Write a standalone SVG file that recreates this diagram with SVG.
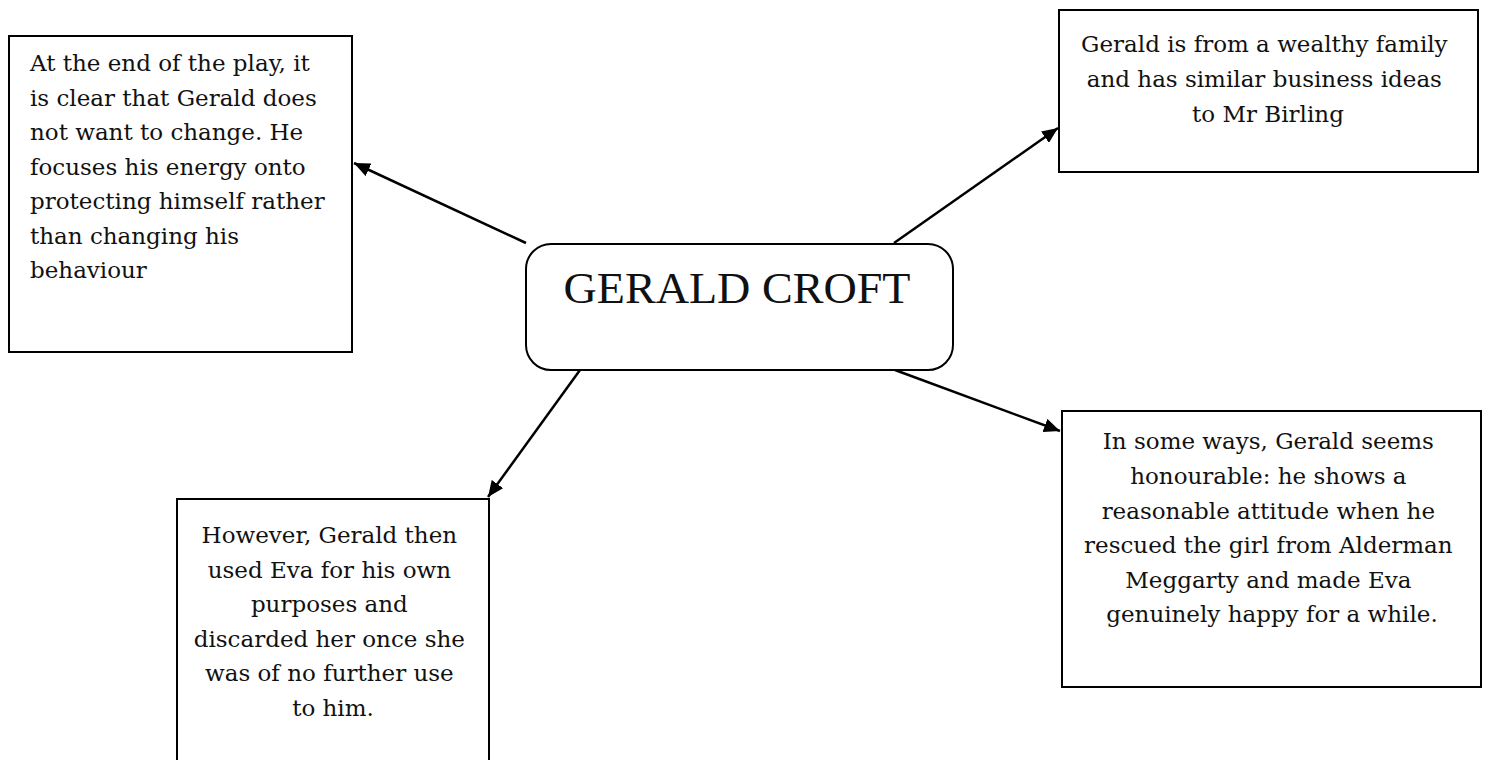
<svg xmlns="http://www.w3.org/2000/svg" width="1488" height="760" viewBox="0 0 1488 760">
<style>
.box{fill:#fff;stroke:#000;stroke-width:2}
.t{font-family:"DejaVu Serif","Liberation Serif",serif;font-size:23px;fill:#111}
.c{text-anchor:middle}
.title{font-family:"Liberation Serif","Times New Roman",serif;font-size:45px;fill:#111;text-anchor:middle}
.conn{stroke:#000;stroke-width:2.5;fill:none}
</style>
<defs>
<marker id="ah" markerUnits="userSpaceOnUse" markerWidth="18" markerHeight="14" refX="16" refY="7" orient="auto">
<path d="M0,0 L16,7 L0,14 Z" fill="#000"/>
</marker>
</defs>
<rect width="1488" height="760" fill="#fff"/>
<g id="connectors">
<line class="conn" x1="526" y1="243" x2="354" y2="163" marker-end="url(#ah)"/>
<line class="conn" x1="894" y1="243" x2="1058" y2="128" marker-end="url(#ah)"/>
<line class="conn" x1="580" y1="370" x2="488" y2="497" marker-end="url(#ah)"/>
<line class="conn" x1="895" y1="370" x2="1060" y2="431" marker-end="url(#ah)"/>
</g>
<g id="node-center">
<rect class="box" x="526" y="244" width="427" height="126" rx="25" ry="25"/>
<text class="title" x="737" y="303" textLength="347" lengthAdjust="spacingAndGlyphs">GERALD CROFT</text>
</g>
<g id="node-change">
<rect class="box" x="9" y="36" width="343" height="316"/>
<text class="t">
<tspan x="30" y="71">At the end of the play, it</tspan>
<tspan x="30" y="105.5">is clear that Gerald does</tspan>
<tspan x="30" y="140">not want to change. He</tspan>
<tspan x="30" y="174.5">focuses his energy onto</tspan>
<tspan x="30" y="209">protecting himself rather</tspan>
<tspan x="30" y="243.5">than changing his</tspan>
<tspan x="30" y="278">behaviour</tspan>
</text>
</g>
<g id="node-wealthy">
<rect class="box" x="1059" y="10" width="419" height="162"/>
<text class="t c">
<tspan x="1268" y="52">Gerald is from a wealthy family</tspan>
<tspan x="1268" y="87">and has similar business ideas</tspan>
<tspan x="1268" y="122">to Mr Birling</tspan>
</text>
</g>
<g id="node-used">
<rect class="box" x="177" y="499" width="312" height="270"/>
<text class="t c">
<tspan x="333" y="543">However, Gerald then</tspan>
<tspan x="333" y="577.5">used Eva for his own</tspan>
<tspan x="333" y="612">purposes and</tspan>
<tspan x="333" y="646.5">discarded her once she</tspan>
<tspan x="333" y="681">was of no further use</tspan>
<tspan x="333" y="715.5">to him.</tspan>
</text>
</g>
<g id="node-honourable">
<rect class="box" x="1062" y="411" width="419" height="276"/>
<text class="t c">
<tspan x="1272" y="449">In some ways, Gerald seems</tspan>
<tspan x="1272" y="484">honourable: he shows a</tspan>
<tspan x="1272" y="518.5">reasonable attitude when he</tspan>
<tspan x="1272" y="553">rescued the girl from Alderman</tspan>
<tspan x="1272" y="587.5">Meggarty and made Eva</tspan>
<tspan x="1272" y="622">genuinely happy for a while.</tspan>
</text>
</g>
</svg>
